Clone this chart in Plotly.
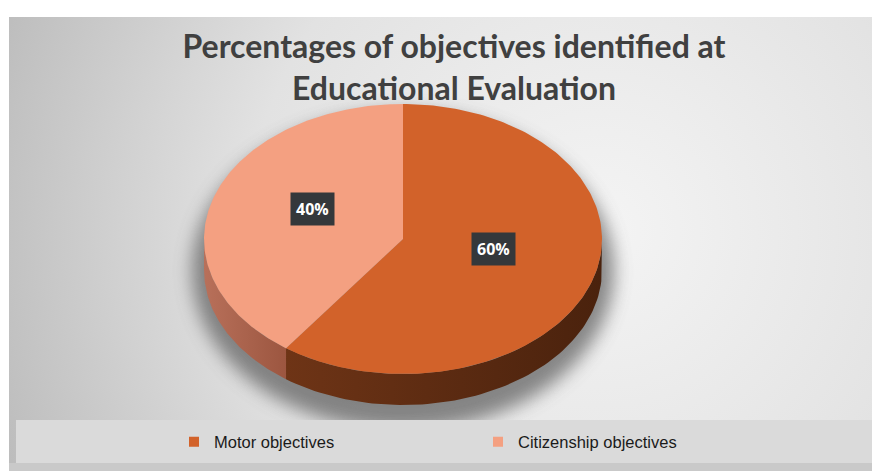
import base64
import numpy as np
import plotly.graph_objects as go

# ---- data ----
categories = ["Motor objectives", "Citizenship objectives"]
values = [60, 40]
label_texts = ["60%", "40%"]

# ---- styles ----
top_colors = ["#D2622A", "#F4A081"]
side_grad = [["#6E3416", "#4A220D"], ["#B8705A", "#9C5640"]]
OFF = 0  # page body margin removed in post_script; axis units = page pixels
W, H = 872, 471
cx, cy, a, b, depth = 403, 239, 199, 135, 31

# background (decorative) as svg image, in page pixel units
svg = f'''<svg xmlns="http://www.w3.org/2000/svg" width="{W}" height="{H}" viewBox="{OFF} {OFF} {W} {H}" preserveAspectRatio="none">
<defs>
<radialGradient id="g" cx="600" cy="230" r="640" gradientUnits="userSpaceOnUse">
<stop offset="0" stop-color="#f4f4f4"/><stop offset="0.55" stop-color="#e2e2e2"/><stop offset="1" stop-color="#bcbcbc"/>
</radialGradient>
<filter id="bl" x="-30%" y="-30%" width="160%" height="160%"><feGaussianBlur stdDeviation="9"/></filter>
</defs>
<rect x="0" y="0" width="{W+20}" height="{H+20}" fill="#ffffff"/>
<rect x="9" y="17" width="{W+20}" height="{H+20}" fill="url(#g)"/>
<ellipse cx="{cx}" cy="{cy+32}" rx="{a+12}" ry="{b+24}" fill="#5a5a5a" opacity="0.7" filter="url(#bl)"/>
<rect x="16" y="420" width="{W+20}" height="43" fill="#dadada"/>
<rect x="9" y="463" width="{W+20}" height="20" fill="#c9c9c9"/>
</svg>'''
bg_src = "data:image/svg+xml;base64," + base64.b64encode(svg.encode()).decode()

fig = go.Figure()

total = sum(values)
cum = np.cumsum([0] + values) / total
starts = 90 - cum[:-1] * 360
ends = 90 - cum[1:] * 360


def ex(t):
    return cx + a * np.cos(np.radians(t))


def ey(t):
    return cy - b * np.sin(np.radians(t))


# sides (front half only)
for i in range(len(values)):
    lo, hi = ends[i], starts[i]
    for k in (-1, 0, 1):
        l2, h2 = max(lo + 360 * k, -180), min(hi + 360 * k, 0)
        if h2 > l2:
            t = np.linspace(l2, h2, 80)
            xs = np.concatenate([ex(t), ex(t[::-1])])
            ys = np.concatenate([ey(t), ey(t[::-1]) + depth])
            fig.add_trace(go.Scatter(
                x=xs, y=ys, fill="toself", mode="lines", line=dict(width=0),
                fillcolor=side_grad[i][1],
                fillgradient=dict(type="horizontal",
                                  colorscale=[[0, side_grad[i][0]], [1, side_grad[i][1]]]),
                hoverinfo="skip", showlegend=False))

# top faces
for i in range(len(values)):
    t = np.linspace(starts[i], ends[i], 200)
    xs = np.concatenate([[cx], ex(t), [cx]])
    ys = np.concatenate([[cy], ey(t), [cy]])
    fig.add_trace(go.Scatter(
        x=xs, y=ys, fill="toself", mode="lines", line=dict(width=0),
        fillcolor=top_colors[i], name=categories[i],
        hoverinfo="name", showlegend=False))

# legend entries
for i, leg in enumerate(["legend", "legend2"]):
    fig.add_trace(go.Scatter(
        x=[None], y=[None], mode="markers", name=categories[i],
        marker=dict(symbol="square", size=10, color=top_colors[i]),
        legend=leg))

# data labels
annotations = []
for i in range(len(values)):
    mid = (starts[i] + ends[i]) / 2
    lx = cx + 0.48 * a * np.cos(np.radians(mid))
    ly = cy - 10 - 0.48 * b * np.sin(np.radians(mid))
    annotations.append(dict(
        x=lx, y=ly, xref="x", yref="y", text=label_texts[i], showarrow=False,
        bgcolor="#34383B", borderpad=5,
        font=dict(family="Open Sans", size=16, color="white", weight="bold")))

leg_common = dict(orientation="h", yanchor="middle", xanchor="left",
                  bgcolor="rgba(0,0,0,0)", borderwidth=0,
                  font=dict(family="Liberation Sans", size=16.5, color="#1a1a1a"))

fig.update_layout(
    width=W, height=H, autosize=False,
    margin=dict(l=0, r=0, t=0, b=0),
    paper_bgcolor="#cdcdcd", plot_bgcolor="rgba(0,0,0,0)",
    xaxis=dict(range=[OFF, W + OFF], visible=False, fixedrange=True),
    yaxis=dict(range=[H + OFF, OFF], visible=False, fixedrange=True),
    images=[dict(source=bg_src, xref="paper", yref="paper", x=0, y=1,
                 sizex=1, sizey=1, sizing="stretch", layer="below")],
    title=dict(text="Percentages of objectives identified at<br>Educational Evaluation",
               x=(454 - OFF) / W, xanchor="center", y=1 - (58 - OFF) / H, yanchor="top",
               font=dict(family="Lato", size=32, color="#404040", weight="bold")),
    legend=dict(x=(215 - 41 - OFF) / W, y=1 - (442 - OFF) / H, **leg_common),
    legend2=dict(x=(519 - 41 - OFF) / W, y=1 - (442 - OFF) / H, **leg_common),
    annotations=annotations,
    showlegend=True,
)

fig.write_html(
    "out.html",
    config={"displayModeBar": False},
    post_script="document.body.style.margin='0';"
                "document.documentElement.style.overflow='hidden';"
                "document.body.style.overflow='hidden';"
                "document.documentElement.style.background='#cdcdcd';"
                "document.body.style.background='#cdcdcd';",
)
